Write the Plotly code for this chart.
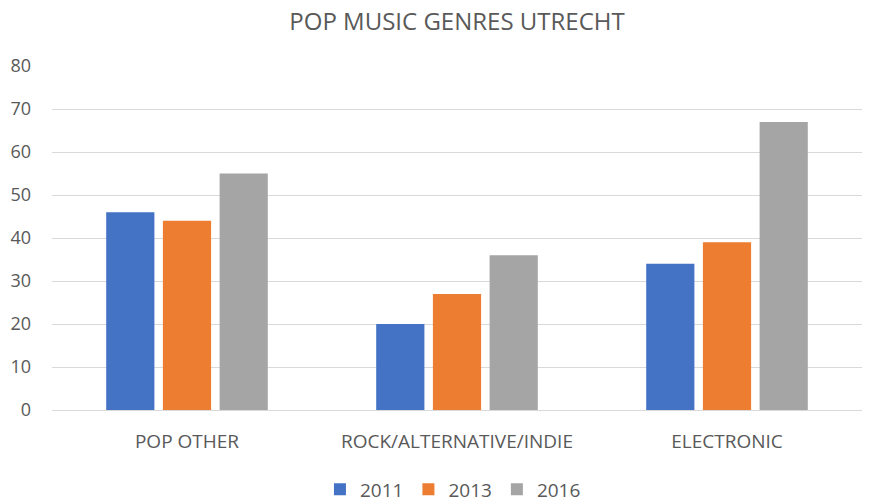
import plotly.graph_objects as go

# données
categories = ["POP OTHER", "ROCK/ALTERNATIVE/INDIE", "ELECTRONIC"]
annees = ["2011", "2013", "2016"]
valeurs_2011 = [46, 20, 34]
valeurs_2013 = [44, 27, 39]
valeurs_2016 = [55, 36, 67]

couleurs = ["#4472C4", "#ED7D31", "#A5A5A5"]
series = [valeurs_2011, valeurs_2013, valeurs_2016]

fig = go.Figure()
for annee, vals, col in zip(annees, series, couleurs):
    fig.add_trace(go.Bar(x=categories, y=vals, name=annee, marker=dict(color=col, line=dict(width=0))))

# la page a une marge de 8px, on compense dans les marges
fig.update_layout(
    width=872, height=504,
    margin=dict(l=44, r=18, t=58, b=102),
    paper_bgcolor="white", plot_bgcolor="white",
    font=dict(family="Open Sans", color="#595959", size=18),
    title=dict(text="POP MUSIC GENRES UTRECHT", xref="paper", x=0.5, xanchor="center",
               y=0.974, yanchor="middle", font=dict(size=24, color="#595959")),
    barmode="group", bargap=0.37, bargroupgap=0.15,
    legend=dict(orientation="h", x=0.495, xanchor="center", yref="container", y=0.045, yanchor="middle",
                font=dict(size=19), itemwidth=30, traceorder="normal"),
)
fig.update_yaxes(range=[0, 80], dtick=10, showgrid=True, gridcolor="#D9D9D9", gridwidth=1,
                 zeroline=False, showline=False, ticks="", ticklabelstandoff=20, automargin=False)
fig.update_xaxes(showline=True, linecolor="#D9D9D9", linewidth=1, ticks="", ticklabelstandoff=14,
                 tickfont=dict(size=19), automargin=False)

fig.write_html("out.html")
